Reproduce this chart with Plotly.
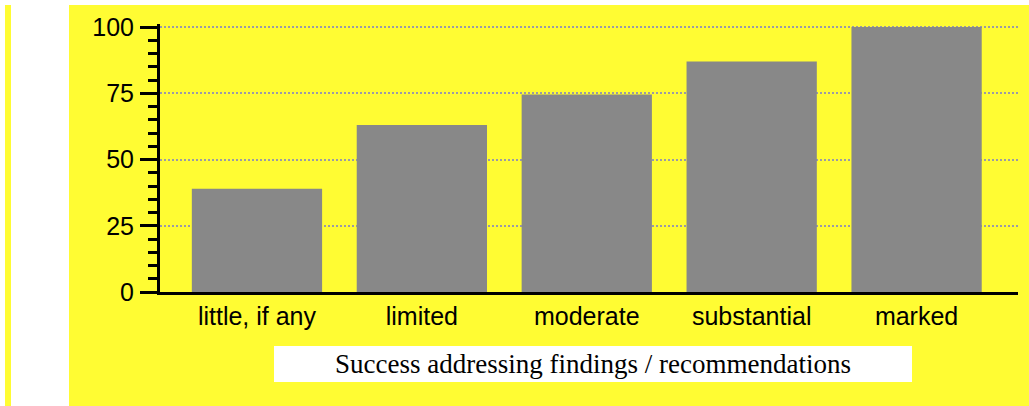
import plotly.graph_objects as go

categories = ["little, if any", "limited", "moderate", "substantial", "marked"]
values = [39, 63, 74.5, 87, 100]
y_ticks = [0, 25, 50, 75, 100]
title_text = "Success addressing findings / recommendations"

W, H = 1029, 406
L, R, T, B = 160, 11, 24, 114
pw, ph = W - L - R, H - T - B
y_top = ph / 2.65  # 100 units = 265 px

def px(x):
    return (x - L) / pw

def py(y):
    return (H - B - y) / ph

YEL = "#FFFC33"

fig = go.Figure()
fig.add_trace(go.Bar(
    x=list(range(len(categories))), y=values,
    marker=dict(color="#888888", line=dict(width=0)),
    width=0.79,
    hoverinfo="skip",
))

shapes = [
    dict(type="rect", xref="paper", yref="paper", x0=px(69), x1=px(1029), y0=py(406), y1=py(5),
         fillcolor=YEL, line=dict(width=0), layer="below"),
    dict(type="rect", xref="paper", yref="paper", x0=px(5), x1=px(11), y0=py(406), y1=py(5),
         fillcolor=YEL, line=dict(width=0), layer="below"),
    dict(type="rect", xref="paper", yref="paper", x0=px(274), x1=px(912), y0=py(382), y1=py(346),
         fillcolor="white", line=dict(width=0), layer="above"),
]

fig.update_layout(
    width=W, height=H,
    margin=dict(l=L, r=R, t=T, b=B, pad=0),
    paper_bgcolor="white",
    plot_bgcolor=YEL,
    showlegend=False,
    shapes=shapes,
    font=dict(family="Liberation Sans", color="black"),
)

fig.add_annotation(
    x=px(593), y=py(364), xref="paper", yref="paper",
    text=title_text, showarrow=False,
    font=dict(family="Liberation Serif", size=27, color="black"),
    xanchor="center", yanchor="middle",
)

fig.update_xaxes(
    range=[-0.588, 4.615],
    tickmode="array", tickvals=list(range(len(categories))), ticktext=categories,
    tickfont=dict(family="Liberation Sans", size=25, color="black"),
    showline=True, linecolor="black", linewidth=3,
    showgrid=False, zeroline=False, ticks="", ticklabelstandoff=0,
    fixedrange=True,
)

fig.update_yaxes(
    range=[0, y_top],
    tickmode="array", tickvals=y_ticks, ticktext=[str(v) for v in y_ticks],
    tickfont=dict(family="Liberation Sans", size=25, color="black"),
    showline=True, linecolor="black", linewidth=3,
    ticks="outside", ticklen=17, tickwidth=3, tickcolor="black",
    minor=dict(tickvals=list(range(0, 101, 5)), ticks="outside", ticklen=9, tickwidth=3,
               tickcolor="black", showgrid=False),
    showgrid=True, gridcolor="#9a9aa6", gridwidth=2, griddash="2px,2px",
    zeroline=False, ticklabelstandoff=1,
    fixedrange=True,
)

fig.write_html("out.html", config={"displayModeBar": False},
               post_script="document.body.style.margin='0';")
